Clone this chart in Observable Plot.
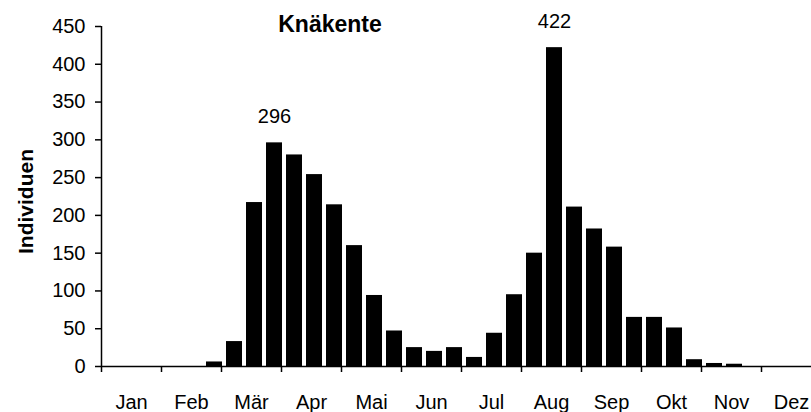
<!DOCTYPE html>
<html><head><meta charset="utf-8">
<script src="https://cdn.jsdelivr.net/npm/d3@7"></script>
<script src="https://cdn.jsdelivr.net/npm/@observablehq/plot@0.6"></script>
<style>
html,body{margin:0;padding:0;overflow:hidden;background:#fff;}
#wrap{position:relative;width:811px;height:412px;overflow:hidden;}
#title{position:absolute;left:330px;top:13px;transform:translateX(-50%);font:bold 23px "Liberation Sans",Arial,sans-serif;line-height:23px;color:#000;white-space:nowrap;}
svg g[aria-label="y-axis label"] text{font-weight:bold;font-size:21px;}
</style></head><body><div id="wrap"><div id="title">Knäkente</div></div>
<script>
const title = "Knäkente";
const yLabel = "Individuen";
const months = ["Jan","Feb","Mär","Apr","Mai","Jun","Jul","Aug","Sep","Okt","Nov","Dez"];
// three bars (thirds of the month) per month
const counts = [
  0, 0, 0,
  0, 0, 6,
  33, 217, 296,
  280, 254, 214,
  160, 94, 47,
  25, 20, 25,
  12, 44, 95,
  150, 422, 211,
  182, 158, 65,
  65, 51, 9,
  4, 3, 0,
  0, 0, 0
];
const annotated = [8, 22];
const yTicks = [0, 50, 100, 150, 200, 250, 300, 350, 400, 450];

const data = counts.map((v, i) => ({i, value: v}));
const notes = annotated.map(i => data[i]);
const boundaries = d3.range(0, months.length * 3 + 1, 3);
const centers = months.map((m, k) => k * 3 + 1.5);

const chart = Plot.plot({
  width: 811,
  height: 412,
  marginLeft: 101,
  marginRight: 0,
  marginTop: 26,
  marginBottom: 46,
  style: {fontFamily: '"Liberation Sans", Arial, sans-serif', fontSize: "20px", color: "#000", background: "#fff", overflow: "hidden"},
  x: {domain: [0, 36], range: [101, 821]},
  y: {domain: [0, 450]},
  marks: [
    Plot.rectY(data, {x1: d => d.i, x2: d => d.i + 1, y: "value", insetLeft: 5, insetRight: -1, fill: "#000"}),
    Plot.ruleX([0], {stroke: "#000", strokeWidth: 1.5}),
    Plot.ruleY([0], {stroke: "#000", strokeWidth: 1.5}),
    Plot.axisY({ticks: yTicks, tickSize: 6, tickPadding: 10, strokeWidth: 1.5, fontSize: 20,
      label: yLabel, labelAnchor: "center", labelArrow: "none", labelOffset: 83}),
    Plot.axisX({ticks: boundaries, tickSize: 6, tickFormat: () => "", strokeWidth: 1.5, label: null}),
    Plot.axisX({ticks: centers, tickSize: 0, tickPadding: 28, fontSize: 20, label: null,
      tickFormat: c => months[Math.floor(c / 3)]}),
    Plot.text(notes, {x: d => d.i + 0.5, y: "value", text: d => String(d.value), dx: 3, dy: -26, fontSize: 20, fill: "#000"})
  ]
});
const lab = chart.querySelector('g[aria-label="y-axis label"]');
if (lab) {
  const t = lab.getAttribute("transform") || "";
  lab.setAttribute("transform", (t + " translate(0,5)").trim());
}
document.getElementById("wrap").appendChild(chart);
</script>
</body></html>
